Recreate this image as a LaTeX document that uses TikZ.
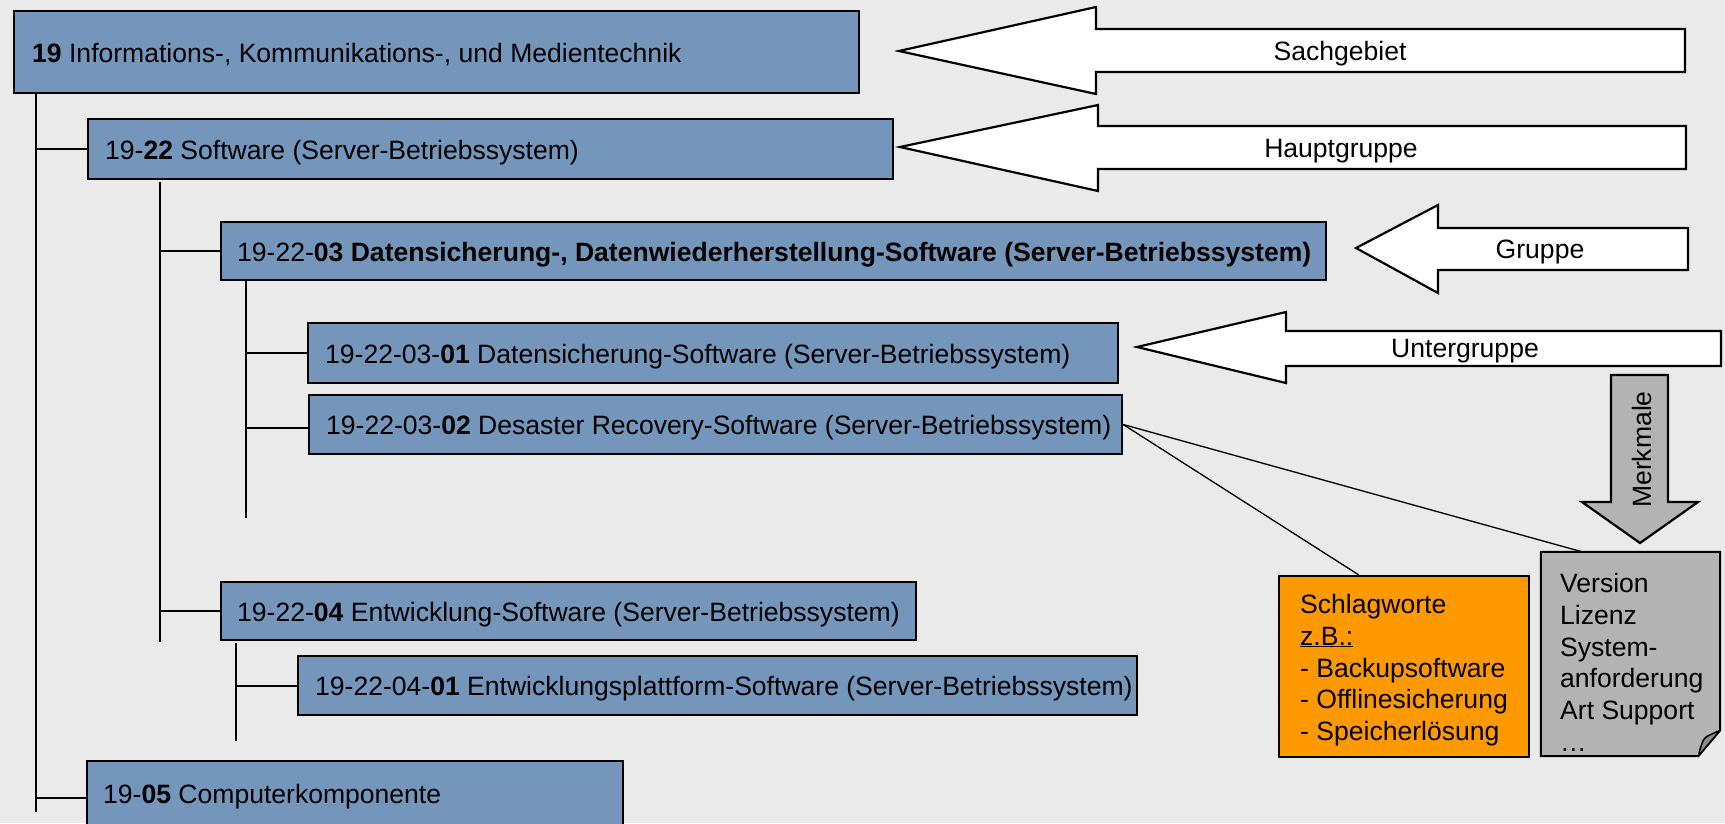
\documentclass[tikz,border=0pt]{standalone}
\usepackage{fontspec}
\setmainfont{Liberation Sans}
\usetikzlibrary{calc}
\definecolor{bg}{RGB}{234,234,234}
\definecolor{boxblue}{RGB}{116,150,186}
\definecolor{orng}{RGB}{255,153,0}
\definecolor{docgray}{RGB}{179,179,179}
\definecolor{foldgray}{RGB}{140,140,140}
\begin{document}
\begin{tikzpicture}[x=1pt,y=-1pt,
  font=\fontsize{26.55}{31.8}\selectfont,
  box/.style={draw=black, fill=boxblue, line width=2.4pt, inner sep=0pt},
  lbl/.style={inner sep=0pt, anchor=base west},
  albl/.style={inner sep=0pt, anchor=base},
  tree/.style={line width=2pt},
  bigarrow/.style={draw=black, fill=white, line width=2.2pt, line join=miter},
  link/.style={line width=1.3pt}]
\fill[bg] (0,0) rectangle (1725,823);
\useasboundingbox (0,0) rectangle (1725,823);

% tree lines
\coordinate (m0) at (36,93);
\coordinate (m1) at (36,812);
\coordinate (m5) at (36,798);
\coordinate (s0) at (160,182);
\coordinate (s1) at (160,642);
\coordinate (g0) at (246,280);
\coordinate (g1) at (246,518);
\coordinate (g2) at (246,428);
\coordinate (h0) at (235.5,643);
\coordinate (h1) at (235.5,741);

% boxes
\node[box, minimum width=845pt, minimum height=82pt] (b19) at (436.5,52) {};
\node[box, minimum width=805pt, minimum height=60pt] (b22) at (490.5,149) {};
\node[box, minimum width=1105pt, minimum height=58pt] (b03) at (773.5,251) {};
\node[box, minimum width=810pt, minimum height=60pt] (b0301) at (713,353) {};
\node[box, minimum width=813pt, minimum height=59pt] (b0302) at (715.5,424.5) {};
\node[box, minimum width=695pt, minimum height=58pt] (b04) at (568.5,611) {};
\node[box, minimum width=839pt, minimum height=59pt] (b0401) at (717.5,685.5) {};
\node[box, minimum width=536pt, minimum height=64pt] (b05) at (355,793) {};

\node[lbl] (t19) at (32,62) {\bfseries 19\mdseries{} Informations-, Kommunikations-, und Medientechnik};
\node[lbl] (t22) at (105,159) {19-{\bfseries 22} Software (Server-Betriebssystem)};
\node[lbl] (t03) at (237,261) {19-22-{\bfseries 03 Datensicherung-, Datenwiederherstellung-Software (Server-Betriebssystem)}};
\node[lbl] (t0301) at (325,363) {19-22-03-{\bfseries 01} Datensicherung-Software (Server-Betriebssystem)};
\node[lbl] (t0302) at (326,434.5) {19-22-03-{\bfseries 02} Desaster Recovery-Software (Server-Betriebssystem)};
\node[lbl] (t04) at (237,621) {19-22-{\bfseries 04} Entwicklung-Software (Server-Betriebssystem)};
\node[lbl] (t0401) at (315,695.5) {19-22-04-{\bfseries 01} Entwicklungsplattform-Software (Server-Betriebssystem)};
\node[lbl] (t05) at (103,803) {19-{\bfseries 05} Computerkomponente};

\draw[tree] (m0) -- (m1);
\draw[tree] (m0 |- b22.west) -- (b22.west);
\draw[tree] (m5) -- (m5 -| b05.west);
\draw[tree] (s0) -- (s1);
\draw[tree] (s0 |- b03.west) -- (b03.west);
\draw[tree] (s0 |- b04.west) -- (b04.west);
\draw[tree] (g0) -- (g1);
\draw[tree] (g0 |- b0301.west) -- (b0301.west);
\draw[tree] (g2) -- (g2 -| b0302.west);
\draw[tree] (h0) -- (h1);
\draw[tree] (h0 |- b0401.west) -- (b0401.west);

% big arrows
\draw[bigarrow] (899,51) -- (1096,7) -- (1096,29) -- (1685,29) -- (1685,72) -- (1096,72) -- (1096,94) -- cycle;
\node[albl] (a1) at (1340,60) {Sachgebiet};
\draw[bigarrow] (900,147) -- (1098,105) -- (1098,126) -- (1686,126) -- (1686,169) -- (1098,169) -- (1098,191) -- cycle;
\node[albl] (a2) at (1341,157) {Hauptgruppe};
\draw[bigarrow] (1356,248) -- (1438,205) -- (1438,228) -- (1688,228) -- (1688,270) -- (1438,270) -- (1438,293) -- cycle;
\node[albl] (a3) at (1540,258) {Gruppe};
\draw[bigarrow] (1137,347) -- (1286,312) -- (1286,331) -- (1721,331) -- (1721,366) -- (1286,366) -- (1286,383) -- cycle;
\node[albl] (a4) at (1465,357) {Untergruppe};

% Merkmale arrow
\draw[bigarrow, fill=docgray] (1611,375) -- (1668,375) -- (1668,502) -- (1698,502) -- (1640,543) -- (1582,502) -- (1611,502) -- cycle;
\node[albl, rotate=90] (a5) at (1651,449.5) {Merkmale};

% Schlagworte box
\node[draw=black, fill=orng, line width=2.4pt, minimum width=250pt, minimum height=181pt, inner sep=0pt] (sw) at (1404,666.5) {};
\node[inner sep=0pt, anchor=north west, align=left] (swt) at (1300,594) {Schlagworte\\\underline{z.B.:}\\- Backupsoftware\\- Offlinesicherung\\- Speicherlösung};

% document
\node[inner sep=0pt, minimum width=179pt, minimum height=204pt] (doc) at (1630.5,654) {};
\draw[fill=docgray, line width=2pt, line join=miter] (doc.north west) -- (doc.north east) -- ($(doc.south east)+(0,-26)$) -- ($(doc.south east)+(-22,0)$) -- (doc.south west) -- cycle;
\draw[fill=foldgray, line width=1.5pt, line join=round] ($(doc.south east)+(-22,0)$) .. controls ($(doc.south east)+(-19,-12)$) and ($(doc.south east)+(-17,-18)$) .. ($(doc.south east)+(-13,-20)$) -- ($(doc.south east)+(0,-26)$) -- cycle;
\node[inner sep=0pt, anchor=north west, align=left] (doct) at (1560,573) {Version\\Lizenz\\System-\\anforderung\\Art Support\\…};

% links
\draw[link] (b0302.east) -- ($(sw.north west)!0.32!(sw.north east)$);
\draw[link] (b0302.east) -- ($(doc.north west)!0.23!(doc.north east)$);
\end{tikzpicture}
\end{document}
